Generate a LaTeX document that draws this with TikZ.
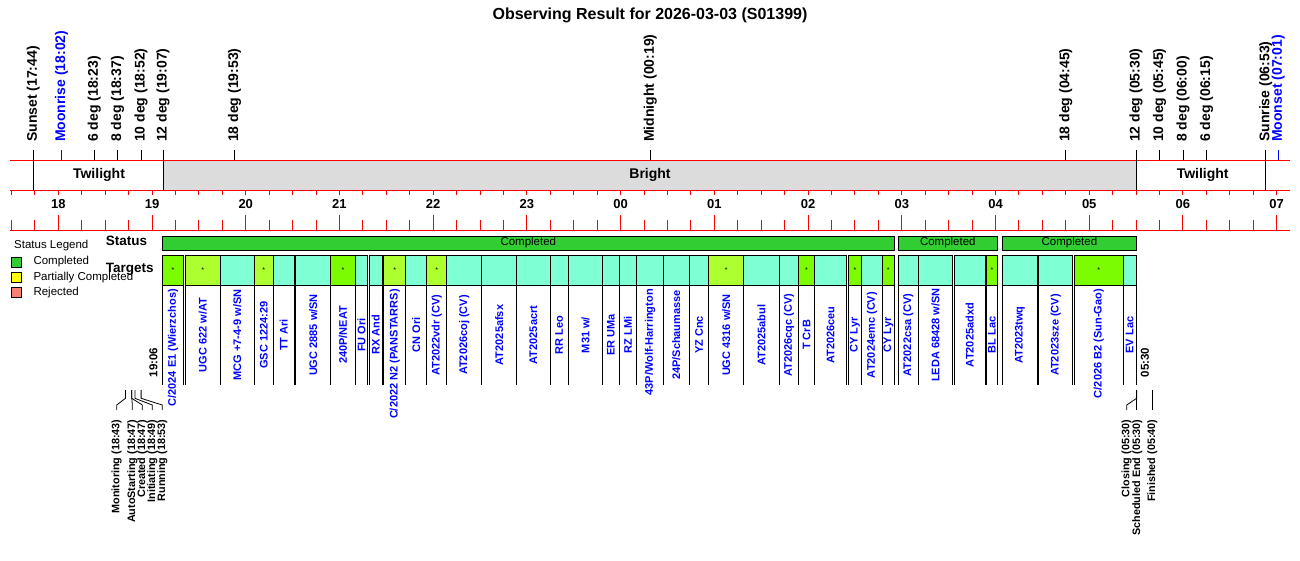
\documentclass[tikz,border=0pt]{standalone}
\usepackage{fontspec}
\setmainfont{Liberation Sans}
\usepackage{xcolor}
\usepackage{tikz}
\usetikzlibrary{positioning}

\definecolor{aquacell}{HTML}{7FFFD4}
\definecolor{gycell}{HTML}{ADFF2F}
\definecolor{lgcell}{HTML}{7CFC00}
\definecolor{donegreen}{HTML}{32CD32}
\definecolor{partyellow}{HTML}{FFFF00}
\definecolor{rejsalmon}{HTML}{FA8072}
\definecolor{bandgray}{HTML}{DCDCDC}

% one target: name, left, right, fill, mark, label, label style
\newcommand{\tgt}[7]{%
  \draw[cellbox, fill=#4] (#2,255) rectangle (#3,285);
  \draw[cellsep] (#2,285) -- (#2,385) (#3,285) -- (#3,385);
  \node[cellmark] (#1m) at ({(#2+#3)/2},270) {#5};
  \node[#7] (#1) at ({(#2+#3)/2},335) {#6};
}

\begin{document}
\begin{tikzpicture}[
    x=1pt, y=-1pt,
    every node/.style={inner sep=0pt},
    redline/.style={red, line width=1pt},
    evtline/.style={black, line width=1pt},
    evtlabel/.style={rotate=90, anchor=west, font=\fontsize{14}{16}\selectfont\bfseries},
    moonlabel/.style={evtlabel, text=blue},
    bandlabel/.style={font=\fontsize{14}{16}\selectfont\bfseries},
    hourlabel/.style={font=\fontsize{13}{15}\selectfont\bfseries},
    rowlabel/.style={anchor=west, font=\fontsize{13.5}{15}\selectfont\bfseries},
    legtext/.style={anchor=west, font=\fontsize{11.5}{13}\selectfont},
    legbox/.style={draw=black, line width=0.8pt},
    barbox/.style={draw=black, fill=donegreen, line width=1pt},
    barlabel/.style={font=\fontsize{11.5}{13}\selectfont},
    cellbox/.style={draw=black, line width=1pt},
    cellsep/.style={black, line width=1pt},
    cellmark/.style={font=\fontsize{7}{7}\selectfont},
    tlabel/.style={rotate=90, text=blue, font=\fontsize{11}{13}\selectfont\bfseries},
    tlong/.style={tlabel, anchor=east, xshift=46pt},
    timelabel/.style={rotate=90, anchor=west, font=\fontsize{11.5}{13}\selectfont\bfseries},
    steplabel/.style={rotate=90, anchor=east, font=\fontsize{10.8}{12}\selectfont\bfseries},
    leader/.style={black, line width=0.8pt}
]
\useasboundingbox (0,0) rectangle (1300,560);

\node[font=\fontsize{16}{18}\selectfont\bfseries] (title) at (650,15) {Observing Result for 2026-03-03 (S01399)};

% night band
\fill[bandgray] (163.0,160) rectangle (1136.1,190);
\draw[redline] (10,160) -- (1290,160);
\draw[redline] (10,190) -- (1290,190);
\draw[redline] (10,230) -- (1290,230);
\foreach \i in {0,...,54} {
  \draw[redline] ({11.44+23.43*\i},190) -- ++(0,5);
  \draw[redline] ({11.44+23.43*\i},230) -- ++(0,-10);
}
\foreach \h [count=\k from 0] in {18,19,20,21,22,23,00,01,02,03,04,05,06,07} {
  \draw[redline] ({58.3+93.72*\k},230) -- ++(0,-15);
  \node[hourlabel] (hr\k) at ({58.3+93.72*\k},204) {\h};
}

\node[bandlabel] (twi1) at (99,175) {Twilight};
\node[bandlabel] (bright) at (650,175) {Bright};
\node[bandlabel] (twi2) at (1202.7,175) {Twilight};

% sun, moon and twilight events
\draw[evtline] (33.3,150) -- (33.3,190);
\draw[evtline] (163.0,150) -- (163.0,190);
\draw[evtline] (1136.1,150) -- (1136.1,190);
\draw[evtline] (1265.8,150) -- (1265.8,190);
\draw[blue, line width=1pt] (61.4,150) -- (61.4,160);
\draw[blue, line width=1pt] (1278.3,150) -- (1278.3,160);
\draw[evtline] (94.2,150) -- (94.2,160);
\draw[evtline] (117.6,150) -- (117.6,160);
\draw[evtline] (141.0,150) -- (141.0,160);
\draw[evtline] (234.6,150) -- (234.6,160);
\draw[evtline] (650.3,150) -- (650.3,160);
\draw[evtline] (1065.8,150) -- (1065.8,160);
\draw[evtline] (1159.5,150) -- (1159.5,160);
\draw[evtline] (1183.0,150) -- (1183.0,160);
\draw[evtline] (1206.4,150) -- (1206.4,160);

\node[evtlabel] (sunset) at (33.3,142) {Sunset (17:44)};
\node[moonlabel] (moonrise) at (61.4,142) {Moonrise (18:02)};
\node[evtlabel] (deg6e) at (94.2,142) {6 deg (18:23)};
\node[evtlabel] (deg8e) at (117.6,142) {8 deg (18:37)};
\node[evtlabel] (deg10e) at (141.0,142) {10 deg (18:52)};
\node[evtlabel] (deg12e) at (163.0,142) {12 deg (19:07)};
\node[evtlabel] (deg18e) at (234.6,142) {18 deg (19:53)};
\node[evtlabel] (midnight) at (650.3,142) {Midnight (00:19)};
\node[evtlabel] (deg18m) at (1065.8,142) {18 deg (04:45)};
\node[evtlabel] (deg12m) at (1136.1,142) {12 deg (05:30)};
\node[evtlabel] (deg10m) at (1159.5,142) {10 deg (05:45)};
\node[evtlabel] (deg8m) at (1183.0,142) {8 deg (06:00)};
\node[evtlabel] (deg6m) at (1206.4,142) {6 deg (06:15)};
\node[evtlabel] (sunrise) at (1265.8,142) {Sunrise (06:53)};
\node[moonlabel] (moonset) at (1278.3,142) {Moonset (07:01)};

% legend
\node[legtext] (leghead) at (14,246) {Status Legend};
\draw[legbox, fill=donegreen] (11.7,257.3) rectangle (21.7,267.3);
\draw[legbox, fill=partyellow] (11.7,272.3) rectangle (21.7,282.3);
\draw[legbox, fill=rejsalmon] (11.7,287.3) rectangle (21.7,297.3);
\node[legtext] (legdone) at (33.3,262) {Completed};
\node[legtext] (legpart) at (33.3,277.3) {Partially Completed};
\node[legtext] (legrej) at (33.3,292.3) {Rejected};

% status row
\node[rowlabel] (status) at (105.7,241) {Status};
\draw[barbox] (162.3,236) rectangle (894.3,250);
\draw[barbox] (898.3,236) rectangle (997.3,250);
\draw[barbox] (1002.7,236) rectangle (1136.0,250);
\node[barlabel] (bar1) at (528.3,242.5) {Completed};
\node[barlabel] (bar2) at (947.8,242.5) {Completed};
\node[barlabel] (bar3) at (1069.4,242.5) {Completed};

% targets row
\node[rowlabel] (targets) at (105.7,269) {Targets};
\tgt{t1}{162.3}{183.7}{lgcell}{*}{C/2024 E1 (Wierzchos)}{tlong}
\tgt{t2}{185.3}{220.3}{gycell}{*}{UGC 622 w/AT}{tlabel}
\tgt{t3}{220.3}{254.3}{aquacell}{}{MCG +7-4-9 w/SN}{tlabel}
\tgt{t4}{254.3}{273.3}{gycell}{*}{GSC 1224:29}{tlabel}
\tgt{t5}{273.3}{294.0}{aquacell}{}{TT Ari}{tlabel}
\tgt{t6}{295.7}{330.7}{aquacell}{}{UGC 2885 w/SN}{tlabel}
\tgt{t7}{330.7}{355.3}{lgcell}{*}{240P/NEAT}{tlabel}
\tgt{t8}{355.3}{367.7}{aquacell}{}{FU Ori}{tlabel}
\tgt{t9}{369.3}{382.0}{aquacell}{}{RX And}{tlabel}
\tgt{t10}{383.7}{405.7}{gycell}{*}{C/2022 N2 (PANSTARRS)}{tlong}
\tgt{t11}{405.7}{426.7}{aquacell}{}{CN Ori}{tlabel}
\tgt{t12}{426.7}{446.7}{gycell}{*}{AT2022vdr (CV)}{tlabel}
\tgt{t13}{446.7}{481.7}{aquacell}{}{AT2026coj (CV)}{tlabel}
\tgt{t14}{481.7}{516.7}{aquacell}{}{AT2025afsx}{tlabel}
\tgt{t15}{516.7}{550.0}{aquacell}{}{AT2025acrt}{tlabel}
\tgt{t16}{550.0}{568.3}{aquacell}{}{RR Leo}{tlabel}
\tgt{t17}{568.3}{602.7}{aquacell}{}{M31 w/}{tlabel}
\tgt{t18}{602.7}{619.3}{aquacell}{}{ER UMa}{tlabel}
\tgt{t19}{619.3}{636.7}{aquacell}{}{RZ LMi}{tlabel}
\tgt{t20}{636.7}{663.3}{aquacell}{}{43P/Wolf-Harrington}{tlong}
\tgt{t21}{663.3}{689.3}{aquacell}{}{24P/Schaumasse}{tlabel}
\tgt{t22}{689.3}{708.7}{aquacell}{}{YZ Cnc}{tlabel}
\tgt{t23}{708.7}{743.7}{gycell}{*}{UGC 4316 w/SN}{tlabel}
\tgt{t24}{743.7}{779.3}{aquacell}{}{AT2025abul}{tlabel}
\tgt{t25}{779.3}{798.7}{aquacell}{}{AT2026cqc (CV)}{tlabel}
\tgt{t26}{798.7}{814.3}{lgcell}{*}{T CrB}{tlabel}
\tgt{t27}{814.3}{846.7}{aquacell}{}{AT2026ceu}{tlabel}
\tgt{t28}{848.0}{861.7}{lgcell}{*}{CY Lyr}{tlabel}
\tgt{t29}{861.7}{882.3}{aquacell}{}{AT2024emc (CV)}{tlabel}
\tgt{t30}{882.3}{894.3}{lgcell}{*}{CY Lyr}{tlabel}
\tgt{t31}{898.3}{918.3}{aquacell}{}{AT2022csa (CV)}{tlabel}
\tgt{t32}{918.3}{952.7}{aquacell}{}{LEDA 68428 w/SN}{tlabel}
\tgt{t33}{954.3}{985.0}{aquacell}{}{AT2025adxd}{tlabel}
\tgt{t34}{986.7}{997.3}{lgcell}{*}{BL Lac}{tlabel}
\tgt{t35}{1002.7}{1037.3}{aquacell}{}{AT2023twq}{tlabel}
\tgt{t36}{1038.7}{1072.7}{aquacell}{}{AT2023sze (CV)}{tlabel}
\tgt{t37}{1074.0}{1123.3}{lgcell}{*}{C/2026 B2 (Sun-Gao)}{tlong}
\tgt{t38}{1123.3}{1136.0}{aquacell}{}{EV Lac}{tlabel}

\node[timelabel] (tstart) at (153.3,377.5) {19:06};
\node[timelabel] (tend) at (1145.0,377.5) {05:30};

% run steps
\draw[leader] (125.5,390) -- (125.5,398.3) -- (116.7,405) -- (116.7,410);
\draw[leader] (131.8,390) -- (131.8,398.3) -- (132.3,405) -- (132.3,410);
\draw[leader] (131.8,390) -- (131.8,398.3) -- (142.3,405) -- (142.3,410);
\draw[leader] (134.9,390) -- (134.9,398.3) -- (152.3,405) -- (152.3,410);
\draw[leader] (141.1,390) -- (141.1,398.3) -- (162.3,405) -- (162.3,410);
\node[steplabel] (monitor) at (116.7,419.5) {Monitoring (18:43)};
\node[steplabel] (autostart) at (132.3,419.5) {AutoStarting (18:47)};
\node[steplabel] (created) at (142.3,419.5) {Created (18:47)};
\node[steplabel] (initiate) at (152.3,419.5) {Initiating (18:49)};
\node[steplabel] (running) at (162.3,419.5) {Running (18:53)};

\draw[leader] (1136.6,390) -- (1136.6,398.3) -- (1126.7,405) -- (1126.7,410);
\draw[leader] (1136.6,390) -- (1136.6,410);
\draw[leader] (1152.0,390) -- (1152.0,410);
\node[steplabel] (closing) at (1126.7,419.5) {Closing (05:30)};
\node[steplabel] (schedend) at (1137.3,419.5) {Scheduled End (05:30)};
\node[steplabel] (finished) at (1152.3,419.5) {Finished (05:40)};

\end{tikzpicture}
\end{document}
